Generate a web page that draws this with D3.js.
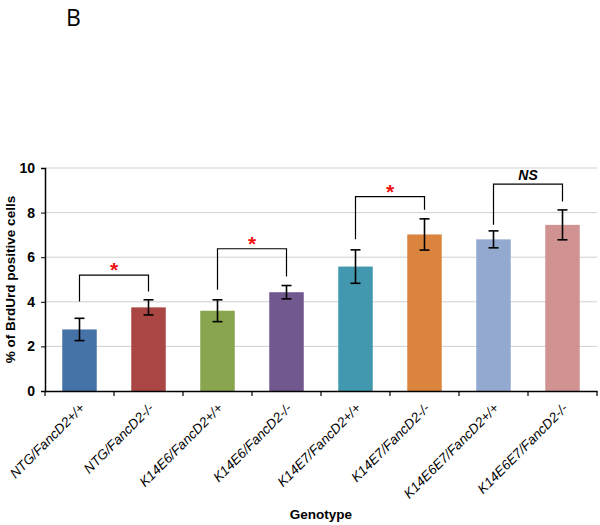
<!DOCTYPE html>
<html>
<head>
<meta charset="utf-8">
<script src="https://cdn.jsdelivr.net/npm/d3@7"></script>
<style>
  body { margin: 0; background: #fff; }
  svg { display: block; font-family: "Liberation Sans", Arial, sans-serif; }
</style>
</head>
<body>
<div id="vis"></div>
<script>
// data
var genotypes = ["NTG/FancD2+/+", "NTG/FancD2-/-", "K14E6/FancD2+/+", "K14E6/FancD2-/-",
                 "K14E7/FancD2+/+", "K14E7/FancD2-/-", "K14E6E7/FancD2+/+", "K14E6E7/FancD2-/-"];
var means = [2.76, 3.75, 3.6, 4.43, 5.58, 7.02, 6.8, 7.45];
var errs = [0.5, 0.34, 0.49, 0.3, 0.75, 0.7, 0.38, 0.67];
var colours = ["#4572a7", "#aa4643", "#89a54e", "#71588f", "#4198af", "#db843d", "#93a9cf", "#d19392"];
var yTicks = [0, 2, 4, 6, 8, 10];

// significance brackets: pair of bars, top of bracket, leg ends, label
var bracketPairs = [[0, 1], [2, 3], [4, 5], [6, 7]];
var bracketTop = [5.2, 6.38, 8.72, 9.28];
var bracketLeft = [4.01, 4.54, 6.81, 7.45];
var bracketRight = [4.46, 5.13, 8.13, 8.5];
var bracketLabel = ["*", "*", "*", "NS"];

var width = 600, height = 525;
var margin = {left: 45, right: 3, top: 168, bottom: 134};

var svg = d3.select("#vis").append("svg")
  .attr("width", width)
  .attr("height", height);

var x = d3.scaleBand()
  .domain(genotypes)
  .range([margin.left, width - margin.right]);

var y = d3.scaleLinear()
  .domain([0, 10])
  .range([height - margin.bottom, margin.top]);

// panel letter
svg.append("text")
  .attr("x", 66)
  .attr("y", 26)
  .attr("font-size", 23)
  .attr("font-family", "'Open Sans', 'DejaVu Sans', sans-serif")
  .text("B");

// gridlines
svg.append("g")
  .selectAll("line")
  .data(yTicks.filter(function(d){ return d > 0; }))
  .enter().append("line")
  .attr("x1", margin.left)
  .attr("x2", width - margin.right)
  .attr("y1", function(d){ return y(d); })
  .attr("y2", function(d){ return y(d); })
  .attr("stroke", "#d0d0d0")
  .attr("stroke-width", 1);

// bars
var bw = x.bandwidth() * 0.5;
svg.append("g")
  .selectAll("rect")
  .data(means)
  .enter().append("rect")
  .attr("x", function(d, i){ return x(genotypes[i]) + (x.bandwidth() - bw) / 2; })
  .attr("y", function(d){ return y(d); })
  .attr("width", bw)
  .attr("height", function(d){ return y(0) - y(d); })
  .attr("fill", function(d, i){ return colours[i]; });

// error bars
var eb = svg.append("g")
  .attr("stroke", "#000")
  .attr("stroke-width", 1.6)
  .selectAll("g")
  .data(means)
  .enter().append("g");
function cx(i) { return x(genotypes[i]) + x.bandwidth() / 2; }
eb.append("line")
  .attr("x1", function(d, i){ return cx(i); })
  .attr("x2", function(d, i){ return cx(i); })
  .attr("y1", function(d, i){ return y(d + errs[i]); })
  .attr("y2", function(d, i){ return y(d - errs[i]); });
eb.append("line")
  .attr("x1", function(d, i){ return cx(i) - 5; })
  .attr("x2", function(d, i){ return cx(i) + 5; })
  .attr("y1", function(d, i){ return y(d + errs[i]); })
  .attr("y2", function(d, i){ return y(d + errs[i]); });
eb.append("line")
  .attr("x1", function(d, i){ return cx(i) - 5; })
  .attr("x2", function(d, i){ return cx(i) + 5; })
  .attr("y1", function(d, i){ return y(d - errs[i]); })
  .attr("y2", function(d, i){ return y(d - errs[i]); });

// brackets
var br = svg.append("g")
  .selectAll("g")
  .data(bracketPairs)
  .enter().append("g");
br.append("path")
  .attr("fill", "none")
  .attr("stroke", "#000")
  .attr("stroke-width", 1.2)
  .attr("d", function(p, i){
    return "M" + cx(p[0]) + "," + y(bracketLeft[i]) +
           "V" + y(bracketTop[i]) +
           "H" + cx(p[1]) +
           "V" + y(bracketRight[i]);
  });
br.append("text")
  .attr("x", function(p){ return (cx(p[0]) + cx(p[1])) / 2; })
  .attr("y", function(p, i){ return y(bracketTop[i]) + (bracketLabel[i] === "*" ? 2 : -4); })
  .attr("text-anchor", "middle")
  .attr("font-weight", "bold")
  .attr("font-style", function(d, i){ return bracketLabel[i] === "NS" ? "italic" : "normal"; })
  .attr("font-size", function(d, i){ return bracketLabel[i] === "*" ? 21 : 14; })
  .attr("fill", function(d, i){ return bracketLabel[i] === "*" ? "#ee1111" : "#000"; })
  .text(function(d, i){ return bracketLabel[i]; });

// y axis
var yAxis = svg.append("g")
  .attr("transform", "translate(" + margin.left + ",0)")
  .call(d3.axisLeft(y).tickValues(yTicks).tickSize(4).tickPadding(6));
yAxis.select(".domain").attr("stroke-width", 1.5);
yAxis.selectAll("text")
  .attr("font-size", 14)
  .attr("font-weight", "bold")
  .attr("font-family", "'Liberation Sans', Arial, sans-serif")
  .attr("fill", "#000");

// x axis
var xAxis = svg.append("g")
  .attr("transform", "translate(0," + y(0) + ")")
  .call(d3.axisBottom(x).tickSize(0).tickFormat(""));
xAxis.select(".domain").attr("stroke-width", 1.5);
xAxis.selectAll(".bnd")
  .data(d3.range(genotypes.length + 1))
  .enter().append("line")
  .attr("class", "bnd")
  .attr("x1", function(i){ return margin.left + i * x.step(); })
  .attr("x2", function(i){ return margin.left + i * x.step(); })
  .attr("y1", 0)
  .attr("y2", 5)
  .attr("stroke", "#000")
  .attr("stroke-width", 1.2);

// category labels, rotated
svg.append("g")
  .selectAll("text")
  .data(genotypes)
  .enter().append("text")
  .attr("transform", function(d, i){
    return "translate(" + (cx(i) + 6) + "," + (y(0) + 18) + ") rotate(-45)";
  })
  .attr("text-anchor", "end")
  .attr("font-size", 13.5)
  .attr("font-style", "italic")
  .text(function(d){ return d; });

// axis titles
svg.append("text")
  .attr("transform", "translate(15," + ((y(0) + y(10)) / 2) + ") rotate(-90)")
  .attr("text-anchor", "middle")
  .attr("font-size", 13.5)
  .attr("font-weight", "bold")
  .text("% of BrdUrd positive cells");

svg.append("text")
  .attr("x", (margin.left + width - margin.right) / 2)
  .attr("y", 519)
  .attr("text-anchor", "middle")
  .attr("font-size", 13.5)
  .attr("font-weight", "bold")
  .text("Genotype");
</script>
</body>
</html>
